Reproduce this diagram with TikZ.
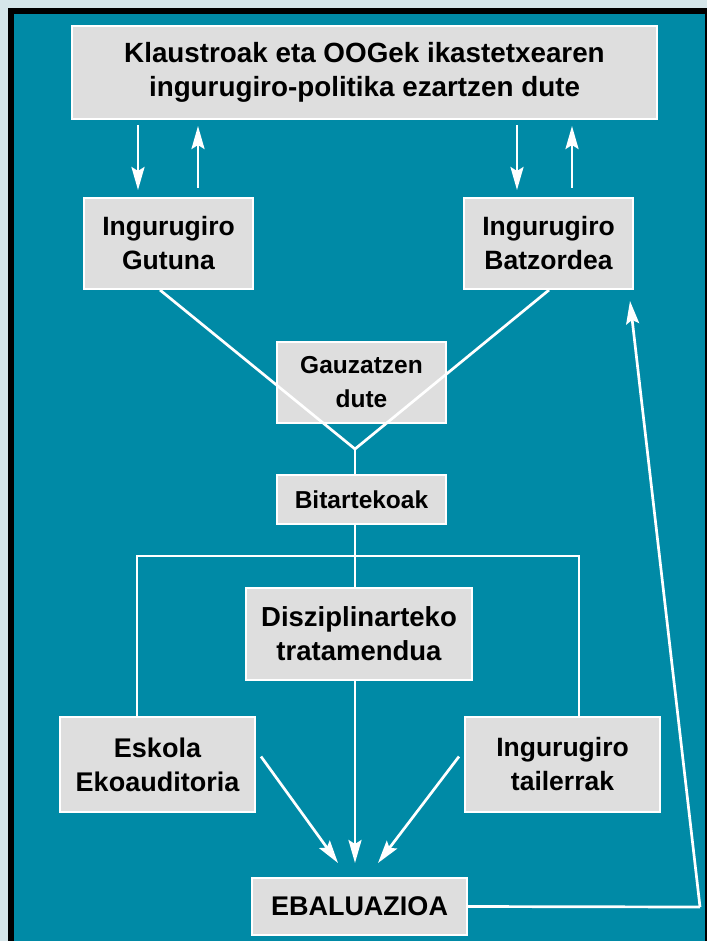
\documentclass[tikz,border=0pt]{standalone}
\usepackage{fontspec}
\setmainfont{Liberation Sans}
\usetikzlibrary{arrows.meta}
\definecolor{bgl}{HTML}{D6E6EA}
\definecolor{teal0}{HTML}{008AA6}
\definecolor{boxg}{HTML}{DEDEDE}
\tikzset{
  box/.style={draw=white, line width=2pt, fill=boxg, inner sep=0pt, align=center,
    text=black, font=\fontsize{26.5}{34}\selectfont\bfseries},
  smallbox/.style={box, font=\fontsize{24.5}{34}\selectfont\bfseries},
  wline/.style={draw=white, line width=2.7pt},
  arr/.style={wline, -{Stealth[length=23pt,width=13pt,inset=4pt]}},
}
\begin{document}
\begin{tikzpicture}[x=1pt,y=-1pt]
\useasboundingbox (0,0) rectangle (707,941);
\fill[bgl] (0,0) rectangle (707,941);
\fill[black] (8,8) rectangle (707,941);
\fill[teal0] (14,14) rectangle (705,941);

\node[box, minimum width=585, minimum height=93, font=\fontsize{27.8}{34}\selectfont\bfseries] (top) at (364.5,72.5)
  {Klaustroak eta OOGek ikastetxearen\\ingurugiro-politika ezartzen dute};
\node[box, minimum width=169, minimum height=91] (gut) at (168.5,243.5) {Ingurugiro\\Gutuna};
\node[box, minimum width=169, minimum height=91] (bat) at (548.5,243.5) {Ingurugiro\\Batzordea};
\node[smallbox, minimum width=169, minimum height=81] (gau) at (361.5,382.5) {Gauzatzen\\dute};
\node[smallbox, minimum width=169, minimum height=49] (bit) at (361.5,499.5) {Bitartekoak};
\node[box, minimum width=226, minimum height=92, font=\fontsize{27.5}{34}\selectfont\bfseries] (dis) at (359,634) {Disziplinarteko\\tratamendua};
\node[box, minimum width=195, minimum height=95, font=\fontsize{27}{34}\selectfont\bfseries] (esk) at (157.5,764.5) {Eskola\\Ekoauditoria};
\node[box, minimum width=195, minimum height=95] (tai) at (562.5,764.5) {Ingurugiro\\tailerrak};
\node[box, minimum width=215, minimum height=57, font=\fontsize{27}{34}\selectfont\bfseries] (eva) at (359.5,906.5) {EBALUAZIOA};

% top arrows
\draw[arr] ([yshift=-5pt]top.south -| 138,0) -- ([yshift=7pt]gut.north -| 138,0);
\draw[arr] ([yshift=9pt]gut.north -| 198,0) -- ([yshift=-6pt]top.south -| 198,0);
\draw[arr] ([yshift=-5pt]top.south -| 517,0) -- ([yshift=7pt]bat.north -| 517,0);
\draw[arr] ([yshift=9pt]bat.north -| 572,0) -- ([yshift=-6pt]top.south -| 572,0);

% V join
\coordinate (J) at (355,449);
\draw[wline] (gut.south -| 160,0) -- (J) -- (bat.south -| 549,0);
\draw[wline] (J) -- (bit.north -| J);

% bus
\coordinate (B) at (355,556);
\coordinate (BL) at (137,556);
\coordinate (BR) at (579,556);
\draw[wline] (bit.south -| B) -- (B);
\draw[wline] (esk.north -| BL) -- (BL) -- (BR) -- (tai.north -| BR);
\draw[wline] (B) -- (dis.north -| B);

% arrows to evaluation
\coordinate (E1) at (338,863);
\coordinate (E2) at (355,863);
\coordinate (E3) at (378,863);
\draw[arr] (dis.south -| E2) -- (E2);
\draw[arr] ([xshift=5pt,yshift=8pt]esk.east) -- (E1);
\draw[arr] ([xshift=-5pt,yshift=8pt]tai.west) -- (E3);

% feedback
\coordinate (F1) at (700,907);
\coordinate (F2) at (630,301);
\draw[wline] (eva.east) -- (F1);
\draw[arr] (F1) -- (F2);
\end{tikzpicture}
\end{document}
